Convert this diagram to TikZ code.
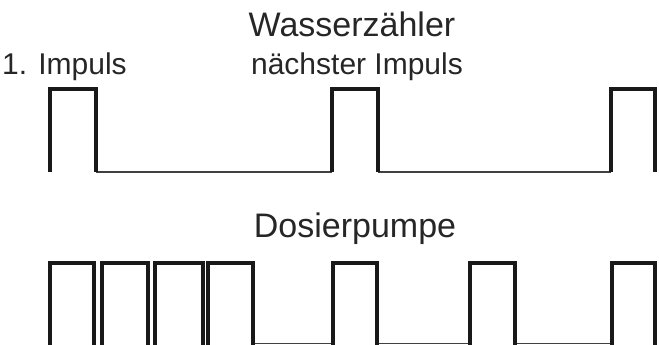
\documentclass[tikz,border=0pt]{standalone}
\usepackage{fontspec}
\setmainfont{Liberation Sans}
\begin{document}
\begin{tikzpicture}[
    x=1pt, y=-1pt,
    title/.style={inner sep=0pt, text=black!85, font=\fontsize{34}{40}\selectfont},
    label/.style={inner sep=0pt, text=black!85, font=\fontsize{30}{36}\selectfont},
    pulse/.style={line width=4pt, black!90, line join=miter},
    base/.style={line width=1.4pt, black!75},
]
    \useasboundingbox (0,0) rectangle (659,345);

    % Wasserzaehler
    \node[title, anchor=base] (wz) at (352,37) {Wasserzähler};
    \node[label, anchor=base west] (first) at (2,75) {1. Impuls};
    \node[label, anchor=base] (next) at (357,75) {nächster Impuls};
    \draw[base] (96,172) -- (332,172);
    \draw[base] (378,172) -- (611,172);
    \draw[pulse] (50,172) -- (50,89) -- (96,89) -- (96,172);
    \draw[pulse] (332,172) -- (332,89) -- (378,89) -- (378,172);
    \draw[pulse] (611,172) -- (611,89) -- (655,89) -- (655,172);

    % Dosierpumpe
    \node[title, anchor=base] (dp) at (355,237) {Dosierpumpe};
    \draw[base] (253,343.5) -- (333,343.5);
    \draw[base] (377,343.5) -- (470,343.5);
    \draw[base] (515,343.5) -- (612,343.5);
    \draw[pulse] (50,345) -- (50,263) -- (94,263) -- (94,345);
    \draw[pulse] (102,345) -- (102,263) -- (148,263) -- (148,345);
    \draw[pulse] (155,345) -- (155,263) -- (203,263) -- (203,345);
    \draw[pulse] (208,345) -- (208,263) -- (253,263) -- (253,345);
    \draw[pulse] (333,345) -- (333,263) -- (377,263) -- (377,345);
    \draw[pulse] (470,345) -- (470,263) -- (515,263) -- (515,345);
    \draw[pulse] (612,345) -- (612,263) -- (655,263) -- (655,345);
\end{tikzpicture}
\end{document}
